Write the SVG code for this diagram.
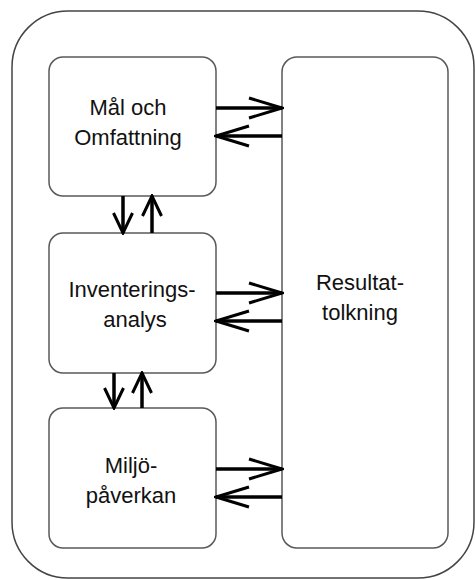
<svg xmlns="http://www.w3.org/2000/svg" width="475" height="580" viewBox="0 0 475 580">
<style>
.box{fill:#fff;stroke:#595959;stroke-width:1.5}
.lbl{font-family:"Liberation Sans",Arial,sans-serif;font-size:22px;fill:#111;text-anchor:middle}
.c{stroke:#000;stroke-width:3.5;fill:none}
</style>
<defs>
<marker id="h" viewBox="0 0 36 24" refX="34" refY="12" markerWidth="36" markerHeight="24" orient="auto" markerUnits="userSpaceOnUse">
<path d="M1,2 L34,12 L1,22" fill="none" stroke="#000" stroke-width="3"/>
</marker>
<marker id="v" viewBox="0 0 24 24" refX="22" refY="12" markerWidth="24" markerHeight="24" orient="auto" markerUnits="userSpaceOnUse">
<path d="M2,2.5 L22,12 L2,21.5" fill="none" stroke="#000" stroke-width="3"/>
</marker>
</defs>
<rect x="12" y="11" width="462" height="567" rx="56" ry="56" fill="#fff" stroke="#444" stroke-width="1.5"/>
<g id="mal">
<rect class="box" x="49" y="57" width="167" height="139" rx="14"/>
<text class="lbl" x="128" y="115">Mål och</text>
<text class="lbl" x="128" y="145">Omfattning</text>
</g>
<g id="inventering">
<rect class="box" x="49" y="233" width="167" height="140" rx="14"/>
<text class="lbl" x="132" y="297">Inventerings-</text>
<text class="lbl" x="135" y="327">analys</text>
</g>
<g id="miljo">
<rect class="box" x="49" y="408" width="167" height="140" rx="14"/>
<text class="lbl" x="131" y="473">Miljö-</text>
<text class="lbl" x="131" y="503">påverkan</text>
</g>
<g id="resultat">
<rect class="box" x="282" y="57" width="166" height="491" rx="15"/>
<text class="lbl" x="360" y="290">Resultat-</text>
<text class="lbl" x="360" y="320">tolkning</text>
</g>
<g id="connectors">
<line class="c" x1="216" y1="108" x2="282" y2="108" marker-end="url(#h)"/>
<line class="c" x1="282" y1="136" x2="216" y2="136" marker-end="url(#h)"/>
<line class="c" x1="216" y1="293" x2="282" y2="293" marker-end="url(#h)"/>
<line class="c" x1="282" y1="321" x2="216" y2="321" marker-end="url(#h)"/>
<line class="c" x1="216" y1="469" x2="282" y2="469" marker-end="url(#h)"/>
<line class="c" x1="282" y1="497" x2="216" y2="497" marker-end="url(#h)"/>
<line class="c" x1="123" y1="196" x2="123" y2="233" marker-end="url(#v)"/>
<line class="c" x1="152" y1="233" x2="152" y2="196" marker-end="url(#v)"/>
<line class="c" x1="114" y1="373" x2="114" y2="408" marker-end="url(#v)"/>
<line class="c" x1="142" y1="408" x2="142" y2="373" marker-end="url(#v)"/>
</g>
</svg>
